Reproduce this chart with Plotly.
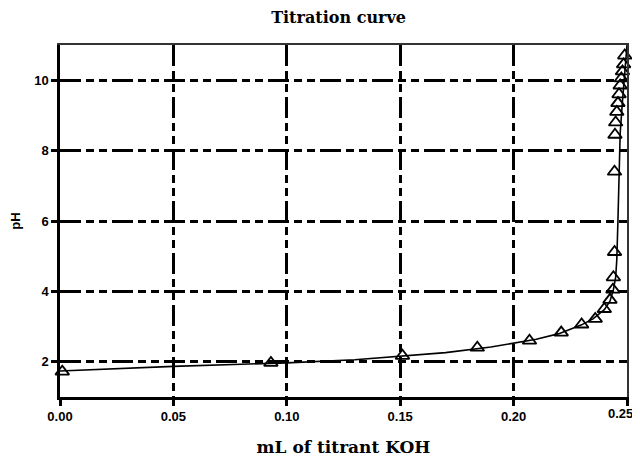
import plotly.graph_objects as go

# measured points (triangles)
vol_pts = [0.001, 0.093, 0.151, 0.184, 0.207, 0.221, 0.230, 0.236, 0.240, 0.2425, 0.2438, 0.2440,
           0.2445, 0.2445, 0.2447, 0.2450, 0.2455, 0.2460, 0.2465, 0.2470, 0.2475, 0.2480, 0.2485, 0.2490]
ph_pts = [1.72, 1.97, 2.17, 2.40, 2.60, 2.83, 3.06, 3.22, 3.50, 3.76, 4.05, 4.40,
          5.12, 7.40, 8.45, 8.80, 9.10, 9.35, 9.60, 9.85, 10.05, 10.25, 10.45, 10.70]

# model curve
vol_curve = [0.0, 0.02, 0.05, 0.08, 0.10, 0.13, 0.15, 0.17, 0.19, 0.20, 0.21, 0.22, 0.23, 0.235,
             0.24, 0.2425, 0.2440, 0.2450, 0.2455, 0.2460, 0.2465, 0.2470, 0.2480, 0.2490, 0.2500]
ph_curve = [1.74, 1.80, 1.87, 1.93, 1.97, 2.06, 2.15, 2.26, 2.42, 2.52, 2.64, 2.80, 3.05, 3.22,
            3.48, 3.72, 4.05, 4.40, 4.90, 6.00, 7.50, 8.50, 9.40, 10.20, 11.0]

x_ticks = [0.00, 0.05, 0.10, 0.15, 0.20, 0.25]
x_labels = ["0.00", "0.05", "0.10", "0.15", "0.20", "0.25"]
y_ticks = [2, 4, 6, 8, 10]

fig = go.Figure()
fig.add_trace(go.Scatter(x=vol_curve, y=ph_curve, mode="lines",
                         line=dict(color="black", width=1.6), showlegend=False, cliponaxis=True))
fig.add_trace(go.Scatter(x=vol_pts, y=ph_pts, mode="markers",
                         marker=dict(symbol="triangle-up-open", size=12, color="black",
                                     line=dict(width=1.8, color="black")),
                         showlegend=False, cliponaxis=False))
# thin frame lines (top/right)
fig.add_trace(go.Scatter(x=[0, 0.25], y=[1, 1], xaxis="x2", yaxis="y2", mode="lines",
                         line=dict(width=0), showlegend=False, hoverinfo="skip"))

grid_dash = "21px,5px,8px,5px,8px,5px"
tickfont = dict(family="Liberation Sans", size=13, color="black", weight="bold")
# last tick label placed as an annotation so it stays inside the page edge
shown_labels = x_labels[:-1] + [""]
fig.add_annotation(x=x_ticks[-1], xref="x", y=0, yref="paper", text=x_labels[-1],
                   showarrow=False, xanchor="center", yanchor="middle", xshift=-7, yshift=-16,
                   font=tickfont)
fig.update_layout(
    width=632, height=449,
    margin=dict(l=52, r=13, t=37, b=60),
    paper_bgcolor="white", plot_bgcolor="white",
    title=dict(text="Titration curve", x=0.523, xanchor="center", y=0.978, yanchor="middle",
               font=dict(family="DejaVu Serif", size=16, color="black", weight="bold")),
    xaxis=dict(range=[0, 0.25], tickvals=x_ticks, ticktext=shown_labels, tickfont=tickfont,
               showline=True, linecolor="black", linewidth=2.5, ticks="outside", ticklen=6,
               tickwidth=2.5, tickcolor="black", showgrid=True, gridcolor="black", gridwidth=2.5,
               griddash=grid_dash, zeroline=False, automargin=False,
               title=dict(text="mL of titrant KOH", standoff=30,
                          font=dict(family="DejaVu Serif", size=17, color="black", weight="bold"))),
    yaxis=dict(range=[1, 11], tickvals=y_ticks, tickfont=tickfont,
               showline=True, linecolor="black", linewidth=2.5, ticks="outside", ticklen=6,
               tickwidth=2.5, tickcolor="black", showgrid=True, gridcolor="black", gridwidth=2.5,
               griddash=grid_dash, zeroline=False, automargin=False,
               title=dict(text="pH", standoff=14,
                          font=dict(family="Liberation Sans", size=13, color="black", weight="bold"))),
    xaxis2=dict(range=[0, 0.25], overlaying="x", side="top", showline=True, linecolor="#333",
                linewidth=1.5, showticklabels=False, ticks="", showgrid=False, zeroline=False,
                automargin=False),
    yaxis2=dict(range=[1, 11], overlaying="y", side="right", showline=True, linecolor="#333",
                linewidth=1.5, showticklabels=False, ticks="", showgrid=False, zeroline=False,
                automargin=False),
)
fig.write_html("out.html")
